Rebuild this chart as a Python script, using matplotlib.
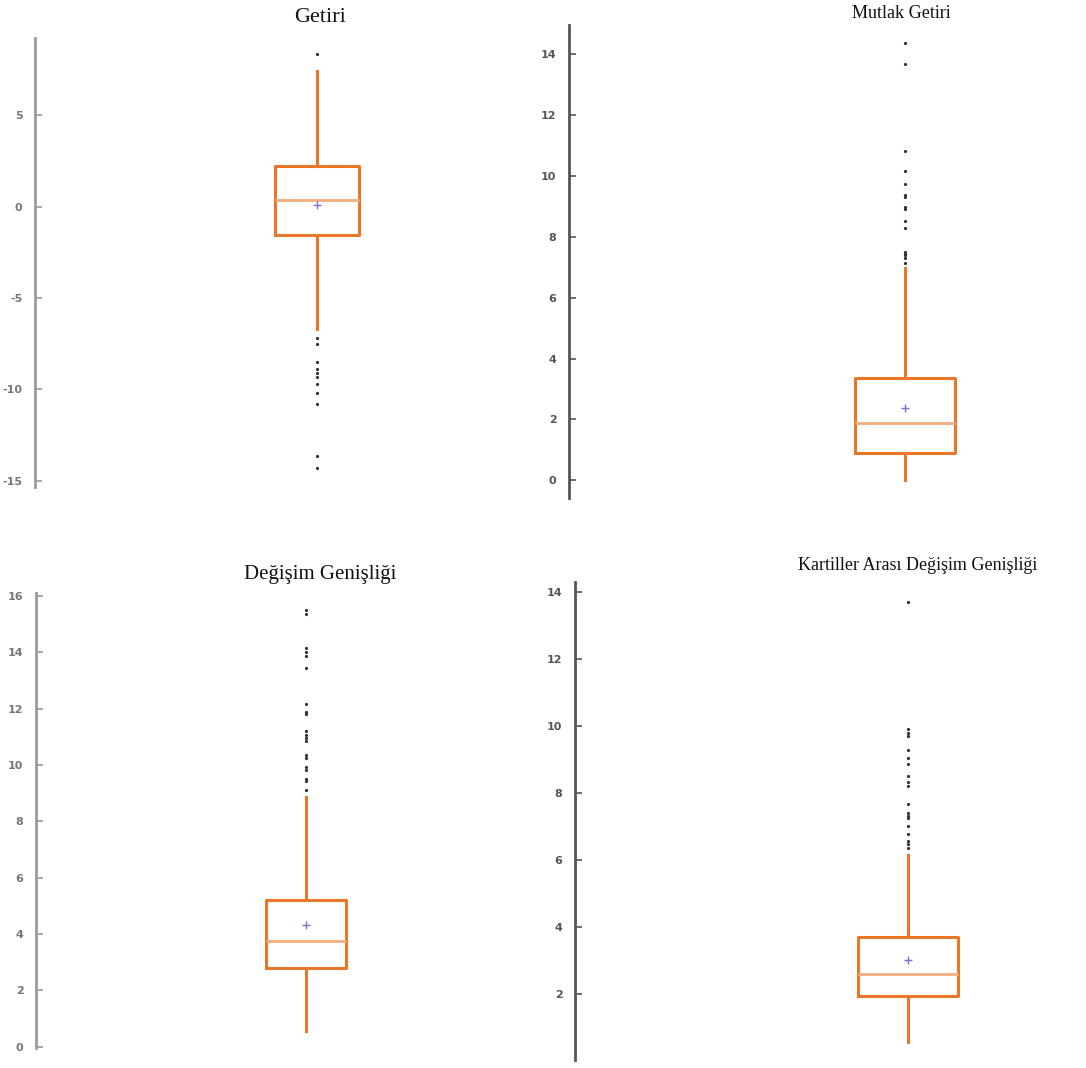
import matplotlib
matplotlib.use("Agg")
import matplotlib.pyplot as plt

# ---- data ----
titles = ["Getiri", "Mutlak Getiri", "Değişim Genişliği", "Kartiller Arası Değişim Genişliği"]

getiri_stats = dict(q1=-1.58, med=0.37, q3=2.19, whislo=-6.72, whishi=7.43, mean=0.10)
getiri_fliers = [8.34, -7.2, -7.5, -8.5, -8.9, -9.1, -9.3, -9.7, -10.2, -10.8, -13.66, -14.3]
getiri_ticks = [-15, -10, -5, 0, 5]

mutlak_stats = dict(q1=0.89, med=1.89, q3=3.37, whislo=0.0, whishi=6.97, mean=2.39)
mutlak_fliers = [14.36, 13.67, 10.83, 10.17, 9.74, 9.38, 9.30, 8.99, 8.90, 8.53, 8.30,
                 7.51, 7.45, 7.40, 7.29, 7.13]
mutlak_ticks = [0, 2, 4, 6, 8, 10, 12, 14]

degisim_stats = dict(q1=2.80, med=3.75, q3=5.21, whislo=0.57, whishi=8.85, mean=4.30)
degisim_fliers = [15.50, 15.36, 14.14, 14.02, 13.85, 13.43, 12.15, 11.89, 11.81, 11.21,
                  11.06, 10.97, 10.83, 10.36, 10.24, 9.94, 9.82, 9.49, 9.41, 9.09]
degisim_ticks = [0, 2, 4, 6, 8, 10, 12, 14, 16]

kartil_stats = dict(q1=1.95, med=2.61, q3=3.70, whislo=0.58, whishi=6.17, mean=3.01)
kartil_fliers = [13.71, 9.90, 9.81, 9.71, 9.29, 9.06, 8.86, 8.50, 8.32, 8.20, 7.69,
                 7.41, 7.31, 7.26, 7.01, 6.77, 6.57, 6.47, 6.35]
kartil_ticks = [2, 4, 6, 8, 10, 12, 14]

# ---- layout (pixels of the 1086x1068 canvas) ----
W, H = 1086, 1068
fig = plt.figure(figsize=(W / 100, H / 100), dpi=100)

BOX = "#E8772A"
MED = "#F2AE7C"
MEAN = "#7B6FD0"

panels = [
    # spine_x, top_y, bottom_y, right_x, box_center_x, box_width_px, ylim, title_xy, title_size, stats, fliers, ticks, spine color, label color
    (35, 38, 487, 505, 317, 84, (-15.33, 9.21), (320, 17), 16, getiri_stats, getiri_fliers, getiri_ticks, "#9a9a9a", "#777777"),
    (569, 25, 498, 1080, 905, 100, (-0.58, 14.96), (901, 14), 13, mutlak_stats, mutlak_fliers, mutlak_ticks, "#555555", "#555555"),
    (36, 593, 1048, 505, 306, 80, (-0.05, 16.10), (320, 574), 15, degisim_stats, degisim_fliers, degisim_ticks, "#9a9a9a", "#777777"),
    (575, 582, 1060, 1080, 908, 100, (0.04, 14.30), (918, 566), 13, kartil_stats, kartil_fliers, kartil_ticks, "#555555", "#555555"),
]

for i, (sx, ty, by, rx, cx, bw, ylim, txy, tsize, st, fl, ticks, scol, lcol) in enumerate(panels):
    wpx = rx - sx
    ax = fig.add_axes([sx / W, 1 - by / H, wpx / W, (by - ty) / H])
    ax.set_facecolor("none")
    s = dict(st)
    s["fliers"] = fl
    pos = (cx - sx) / wpx
    ax.bxp([s], positions=[pos], widths=[bw / wpx], showmeans=True, showcaps=False,
           boxprops=dict(color=BOX, linewidth=2.2),
           whiskerprops=dict(color=BOX, linewidth=2.2),
           medianprops=dict(color=MED, linewidth=2.0),
           meanprops=dict(marker="+", markeredgecolor=MEAN, markersize=6, markeredgewidth=1.0),
           flierprops=dict(marker="o", markerfacecolor="#333333", markeredgecolor="#333333",
                           markersize=1.3, linestyle="none"))
    ax.set_xlim(0, 1)
    ax.set_ylim(*ylim)
    ax.set_yticks(ticks)
    ax.set_yticklabels([str(t) for t in ticks], fontweight="bold")
    ax.set_xticks([])
    for side in ["top", "right", "bottom"]:
        ax.spines[side].set_visible(False)
    ax.spines["left"].set_color(scol)
    ax.spines["left"].set_linewidth(2.0)
    ax.tick_params(axis="y", direction="in", length=5, width=1.2, color=scol,
                   labelsize=8, labelcolor=lcol, pad=9)
    fig.text(txy[0] / W, 1 - txy[1] / H, titles[i], ha="center", va="center",
             fontsize=tsize, family="Liberation Serif", color="#111111")

fig.savefig("out.png", dpi=100, facecolor="white")
